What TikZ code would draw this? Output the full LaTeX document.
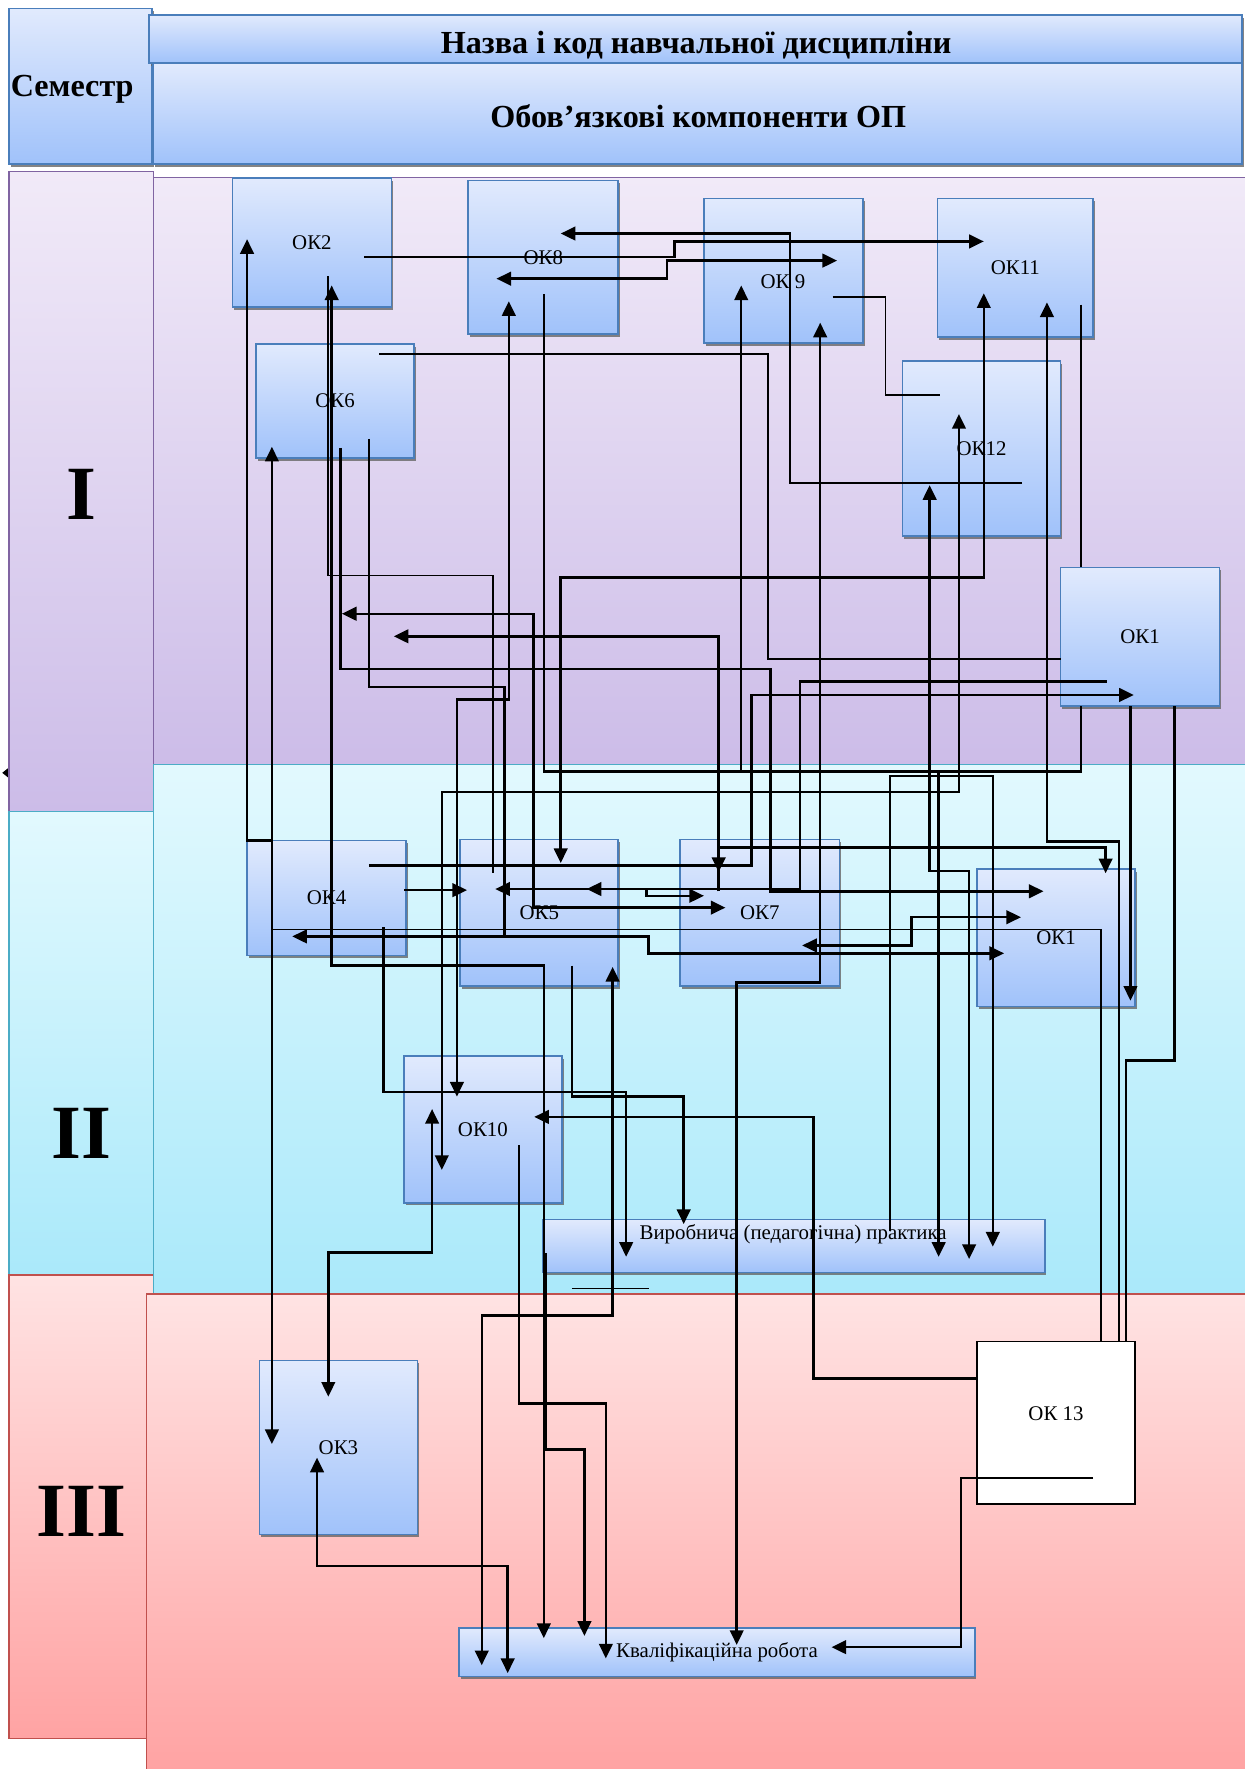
\documentclass[tikz,border=0pt]{standalone}
\usepackage{fontspec}
\setmainfont{Liberation Serif}
\usetikzlibrary{arrows.meta,shadows,calc}
\definecolor{oktop}{RGB}{225,234,253}
\definecolor{okbot}{RGB}{160,194,250}
\definecolor{okline}{RGB}{74,126,187}
\definecolor{purtop}{RGB}{241,234,248}
\definecolor{purbot}{RGB}{204,188,232}
\definecolor{purline}{RGB}{128,100,162}
\definecolor{cyatop}{RGB}{226,249,254}
\definecolor{cyabot}{RGB}{170,233,250}
\definecolor{cyaline}{RGB}{75,172,198}
\definecolor{pintop}{RGB}{255,227,227}
\definecolor{pinbot}{RGB}{255,163,163}
\definecolor{pinline}{RGB}{192,80,77}
\newcommand{\lblfont}{\fontsize{18.5}{20}\selectfont}
\newcommand{\hdrfont}{\fontsize{28.5}{30}\selectfont\bfseries}
\newcommand{\romfont}{\fontsize{68}{70}\selectfont\bfseries}
\tikzset{
  okbox/.style={draw=okline, line width=1.5pt, top color=oktop, bottom color=okbot,
    drop shadow={shadow xshift=1.5pt,shadow yshift=-2.5pt,fill=black!60,opacity=0.8},
    inner sep=0pt, font=\lblfont},
  hbox/.style={okbox, font=\hdrfont},
  whitebox/.style={draw=black, line width=1.4pt, fill=white, inner sep=0pt, font=\lblfont},
  sz/.style 2 args={minimum width=#1pt, minimum height=#2pt},
  lbl/.style={font=\lblfont, inner sep=0pt},
  hlbl/.style={font=\hdrfont, inner sep=0pt},
  rom/.style={font=\romfont, inner sep=0pt},
  conn/.style={line width=2.2pt, line join=miter},
  thinc/.style={line width=1.5pt, line join=miter},
  >={Triangle[length=13pt,width=12pt]}
}
\begin{document}
\begin{tikzpicture}[x=1pt,y=-1pt]
\useasboundingbox (0,0) rectangle (1103,1568);
\fill[white] (0,0) rectangle (1103,1568);

% semester column
\draw[purline, line width=1.2pt, top color=purtop, bottom color=purbot] (8,152) rectangle (136,719);
\draw[cyaline, line width=1.2pt, top color=cyatop, bottom color=cyabot] (8,719) rectangle (136,1130);
\draw[pinline, line width=1.2pt, top color=pintop, bottom color=pinbot] (8,1130) rectangle (136,1541);

% bands
\draw[purline, line width=1pt, top color=purtop, bottom color=purbot] (136,157) rectangle (1104,680);
\draw[cyaline, line width=1pt, top color=cyatop, bottom color=cyabot] (136,678) rectangle (1104,1147);
\draw[pinline, line width=1pt, top color=pintop, bottom color=pinbot] (130,1147) rectangle (1104,1569);
\fill (2,685) -- (7,681) -- (7,689) -- cycle;

\node[rom] (s1) at (72,438) {I};
\node[rom] (s2) at (72,1005) {II};
\node[rom] (s3) at (72,1340) {III};

% header
\node[hbox, sz={127}{138}] (sem) at (71.5,76.5) {};
\node[hlbl] (semt) at (64,79) {Семестр};
\node[hbox, sz={969}{43}] (naz) at (616.5,34.6) {};
\node[hlbl] (nazt) at (617,40) {Назва і код навчальної дисципліни};
\node[hbox, sz={965}{89}] (obov) at (618.3,100.8) {};
\node[hlbl] (obovt) at (619,103) {Обов’язкові компоненти ОП};

% boxes
\node[okbox, sz={141}{114}] (ok2) at (276.5,215) {ОК2};
\node[okbox, sz={133}{136}] (ok8) at (481.5,228) {ОК8};
\node[okbox, sz={141}{128}] (ok9) at (694.5,240) {};
\node[lbl] (ok9t) at (694,250) {ОК 9};
\node[okbox, sz={138}{123}] (ok11) at (900,237.5) {ОК11};
\node[okbox, sz={140}{101}] (ok6) at (297,355.5) {ОК6};
\node[okbox, sz={140}{155}] (ok12) at (870,397.5) {ОК12};
\node[okbox, sz={141}{123}] (ok1a) at (1010.5,564.5) {ОК1};
\node[okbox, sz={141}{102}] (ok4) at (289.5,796) {ОК4};
\node[okbox, sz={140}{130}] (ok5) at (478,809) {ОК5};
\node[okbox, sz={141}{130}] (ok7) at (673.5,809) {ОК7};
\node[okbox, sz={140}{122}] (ok1b) at (936,831) {ОК1};
\node[okbox, sz={140}{130}] (ok10) at (428,1001) {ОК10};
\node[okbox, sz={445}{47}] (prak) at (703.5,1104.5) {};
\node[lbl] (prakt) at (703,1094) {Виробнича (педагогічна) практика};
\node[okbox, sz={140}{154}] (ok3) at (300,1283) {ОК3};
\node[whitebox, sz={140}{144}] (ok13) at (936,1261) {};
\node[lbl] (ok13t) at (936,1253) {ОК 13};
\node[okbox, sz={457}{43}] (kval) at (635.5,1464.5) {Кваліфікаційна робота};

% free ends
\coordinate (j1) at (832,684);
\coordinate (f1) at (349,564);
\coordinate (f2) at (303,544);
\coordinate (q1) at (507,1142);
\coordinate (q2) at (575,1142);

% connectors
\draw[conn,->] (241,745) -- (219,745) -- ($(ok2)+(-57.5,-3)$);
\draw[conn,<->] ($(ok6)+(-56,40.5)$) -- ($(ok3)+(-59,-3)$);
\draw[thinc] ($(ok13)+(40,-72)$) -- (976,824) -- (241,824);
\draw[thinc] ($(ok2)+(14.5,30)$) |- (437,510) -- ($(ok5)+(-41,-35)$);
\draw[conn,<->] ($(ok2)+(17.5,38)$) |- (482,856) -- ($(kval)+(-153.5,-12.5)$);
\draw[conn,->] ($(ok2)+(46.5,13)$) -- (598,228) -- (598,214) -- ($(ok11)+(-28,-23.5)$);
\draw[conn,<->] ($(ok8)+(-41.5,19)$) -- (591,247) -- (591,231) -- ($(ok9)+(47.5,-9)$);
\draw[conn,->] ($(ok12)+(36,30.5)$) -- (700,428) -- (700,207) -- ($(ok8)+(15.5,-21)$);
\draw[thinc] ($(ok9)+(43.5,23)$) -- (785,263) -- (785,350) -- ($(ok12)+(-37,-47.5)$);
\draw[conn,->] (657,684) -- ($(ok9)+(-37.5,13)$);
\draw[conn,<->] ($(ok9)+(32.5,46)$) -- (727,871) -- (653,871) -- ($(kval)+(17.5,-6.5)$);
\draw[conn,<->] ($(ok11)+(-28,22.5)$) -- (872,512) -- (497,512) -- ($(ok5)+(19,-44)$);
\draw[conn,<-] ($(ok11)+(28,30.5)$) -- (928,746) -- (992,746) -- ($(ok13)+(56,-72)$);
\draw[thinc] ($(ok11)+(58,32.5)$) -- ($(ok1a)+(-52.5,-61.5)$);
\draw[conn] ($(ok8)+(0.5,33)$) -- (482,684) -- (958,684) -- ($(ok1a)+(-52.5,61.5)$);
\draw[conn,<->] ($(ok8)+(-30.5,39)$) -- (451,620) -- (405,620) -- ($(ok10)+(-23,-29)$);
\draw[conn,<->] ($(ok12)+(-20,-30.5)$) -- (850,702) -- (391.6,702) -- ($(ok10)+(-36.4,36)$);
\draw[conn,<->] ($(ok12)+(-46,32.5)$) -- (824,772) -- (859,772) -- ($(prak)+(155.5,11.5)$);
\draw[conn,->] (j1) -- ($(prak)+(128.5,9.5)$);
\draw[conn,->] ($(prak)+(85.5,-13.5)$) -- (789,688) -- (880,688) -- ($(prak)+(176.5,0.5)$);
\draw[thinc] ($(ok6)+(39,-41.5)$) -- (681,314) -- (681,584) -- ($(ok1a)+(-70.5,19.5)$);
\draw[conn,->] ($(ok6)+(5,41.5)$) -- (302,593) -- (683,593) -- (683,790) -- ($(ok1b)+(-11,-41)$);
\draw[conn,->] (637,790) -- (637,751) -- (980,751) -- ($(ok1b)+(44,-57)$);
\draw[conn] ($(ok6)+(30,33.5)$) -- (327,609) -- (447,609) -- ($(ok5)+(-31,20)$);
\draw[conn,<->] (f1) -- (637,564) -- ($(ok7)+(-36.5,-36)$);
\draw[conn,<->] (f2) -- (473,544) -- (473,804.5) -- ($(ok7)+(-30.5,-4.5)$);
\draw[conn,->] ($(ok1a)+(-29.5,39.5)$) -- (709,604) -- (709,788) -- ($(ok5)+(-39,-21)$);
\draw[conn,<->] ($(ok5)+(42,-21)$) -- (573,788) -- (573,794) -- ($(ok7)+(-49.5,-15)$);
\draw[conn,->] ($(ok4)+(37.5,-29)$) -- (666,767) -- (666,616) -- ($(ok1a)+(-5.5,51.5)$);
\draw[conn,->] ($(ok4)+(69,-7)$) -- ($(ok5)+(-64,-20)$);
\draw[conn,<->] ($(ok4)+(-30.5,34)$) -- (575,830) -- (575,845) -- ($(ok1b)+(-46,14)$);
\draw[conn,<->] ($(ok7)+(37.5,29)$) -- (808,838) -- (808,813) -- ($(ok1b)+(-31,-18)$);
\draw[conn,->] ($(ok1a)+(-8.5,61.5)$) -- ($(ok1b)+(66,56)$);
\draw[conn] ($(ok1a)+(30.5,61.5)$) -- (1041,940) -- (998,940) -- ($(ok13)+(62,-72)$);
\draw[conn,->] ($(ok4)+(50.5,26)$) -- (340,968) -- (555,968) -- ($(prak)+(-148.5,9.5)$);
\draw[conn,->] ($(ok5)+(29,47)$) -- (507,972) -- (606,972) -- ($(prak)+(-97.5,-19.5)$);
\draw[conn,->] ($(ok13)+(-70,-39)$) -- (721,1222) -- (721,990) -- ($(ok10)+(45.5,-11)$);
\draw[conn,<->] ($(ok10)+(-45,-18)$) -- (383,1110) -- (291,1110) -- ($(ok3)+(-9,-45)$);
\draw[conn,->] ($(ok10)+(32,14)$) -- (460,1244) -- (537,1244) -- ($(kval)+(-98.5,5.5)$);
\draw[conn,<->] ($(ok5)+(65,48)$) -- (543,1166) -- (427,1166) -- ($(kval)+(-208.5,11.5)$);
\draw[conn,<->] ($(ok3)+(-19,9)$) -- (281,1388) -- (450,1388) -- ($(kval)+(-185.5,18.5)$);
\draw[conn,->] ($(prak)+(-219.5,6.5)$) -- (484,1285) -- (518,1285) -- ($(kval)+(-117.5,-14.5)$);
\draw[conn,->] ($(ok13)+(33,49)$) -- (852,1310) -- (852,1460) -- ($(kval)+(101.5,-4.5)$);
\draw[thinc] (q1) -- (q2);
\end{tikzpicture}
\end{document}
